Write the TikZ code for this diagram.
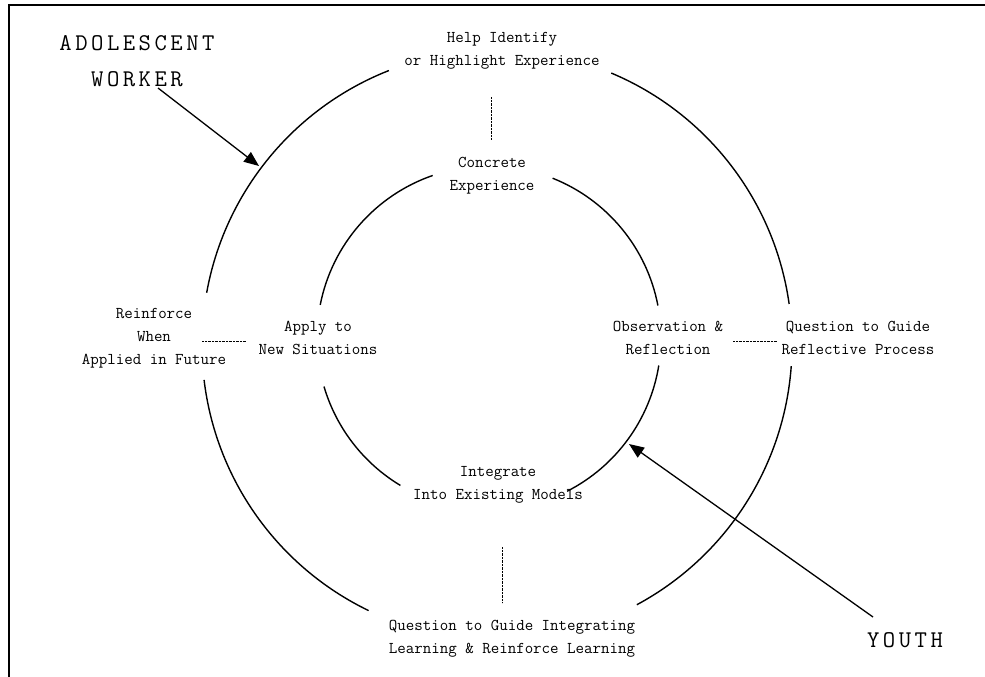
\documentclass[tikz,border=0pt]{standalone}
\usepackage{fontspec}
\usetikzlibrary{arrows.meta}

% spread the letters of a word apart
\makeatletter
\newcommand\tracked[1]{\@tfor\trk@c:=#1\do{\trk@c\kern3.5pt}\kern-3.5pt}
\makeatother

\begin{document}
\begin{tikzpicture}[x=1pt,y=-1pt,
  ring/.style={line width=1.4pt},
  stage/.style={font=\ttfamily\fontsize{16.5}{23}\selectfont, align=center, inner sep=0pt},
  role/.style={font=\ttfamily\fontsize{24}{36}\selectfont, align=center, inner sep=0pt},
  link/.style={line width=0.6pt, dash pattern=on 0.7pt off 0.7pt},
  pointer/.style={line width=1.3pt, -{Triangle[length=15pt,width=12pt]}}]
\useasboundingbox (0,0) rectangle (985,677);

% page frame (left and top edges)
\draw[line width=2pt] (9,677) -- (9,5) -- (985,5);

% centres of the two rings
\coordinate (O) at (497,345);
\coordinate (I) at (489,338);

% outer ring, broken where the labels sit
\draw[ring] (O) ++(-111.5:295) arc[start angle=-111.5, end angle=-169.8, radius=295];
\draw[ring] (O) ++(-67.2:295) arc[start angle=-67.2, end angle=-8, radius=295];
\draw[ring] (O) ++(4.1:295) arc[start angle=4.1, end angle=61.7, radius=295];
\draw[ring] (O) ++(115.8:295) arc[start angle=115.8, end angle=173.2, radius=295];

% inner ring
\draw[ring] (I) ++(-109.1:172) arc[start angle=-109.1, end angle=-168.9, radius=172];
\draw[ring] (I) ++(-68.3:172) arc[start angle=-68.3, end angle=-10.9, radius=172];
\draw[ring] (I) ++(9.2:172) arc[start angle=9.2, end angle=63, radius=172];
\draw[ring] (I) ++(121:172) arc[start angle=121, end angle=163.6, radius=172];

% stage labels
\node[stage] (spot)      at (502,50.5)  {Help Identify\\or Highlight Experience};
\node[stage] (concrete)  at (492,175.5) {Concrete\\Experience};
\node[stage] (reinforce) at (154,338)   {Reinforce\\When\\Applied in Future};
\node[stage] (apply)     at (318,337.5) {Apply to\\New Situations};
\node[stage] (observe)   at (668,337.5) {Observation \&\\Reflection};
\node[stage] (question)  at (858,337.5) {Question to Guide\\Reflective Process};
\node[stage] (integrate) at (498,484.5) {Integrate\\Into Existing Models};
\node[stage] (guide)     at (512,638.5) {Question to Guide Integrating\\Learning \& Reinforce Learning};

% dotted links between paired labels
\draw[link] ([xshift=-11pt,yshift=-46.5pt]spot.center) -- ([xshift=-1pt,yshift=35.5pt]concrete.center);
\draw[link] ([xshift=48pt,yshift=-3pt]reinforce.center) -- ([xshift=-72pt,yshift=-3.5pt]apply.center);
\draw[link] ([xshift=65pt,yshift=-3.5pt]observe.center) -- ([xshift=-81pt,yshift=-3.5pt]question.center);
\draw[link] ([xshift=4pt,yshift=-62.5pt]integrate.center) -- ([xshift=-10pt,yshift=35.5pt]guide.center);

% role labels and their pointers
\node[role] (worker) at (137,61) {\tracked{ADOLESCENT}\\\tracked{WORKER}};
\node[role, anchor=base] (youth) at (905,647) {\tracked{YOUTH}};

\coordinate (workertail) at (158,88);
\coordinate (workertip)  at (259,166);
\coordinate (youthtail)  at (873,617);
\coordinate (youthtip)   at (629,444);
\draw[pointer] (workertail) -- (workertip);
\draw[pointer] (youthtail) -- (youthtip);
\end{tikzpicture}
\end{document}
